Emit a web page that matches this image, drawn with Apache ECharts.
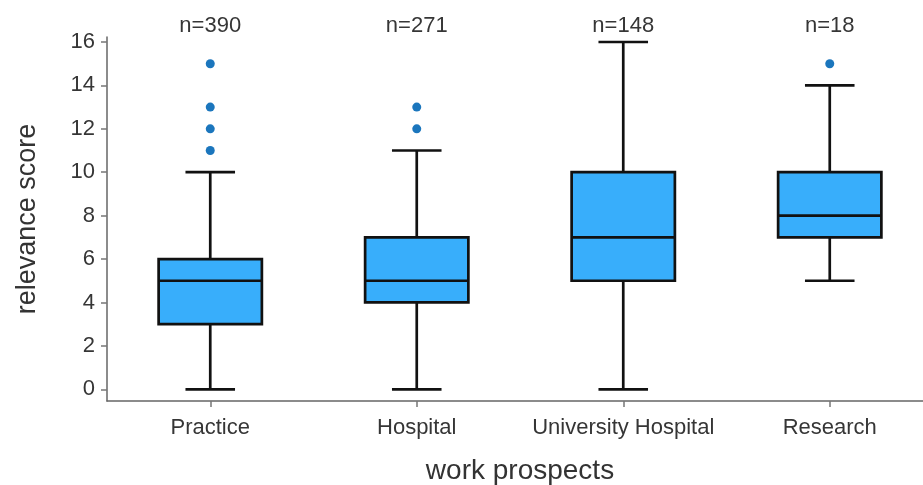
<!DOCTYPE html>
<html>
<head>
<meta charset="utf-8">
<script src="https://cdn.jsdelivr.net/npm/echarts@6/dist/echarts.min.js"></script>
<style>
  html, body { margin: 0; padding: 0; background: #ffffff; }
  #chart { width: 923px; height: 485px; }
</style>
</head>
<body>
<div id="chart"></div>
<script>
// Work prospects and their relevance score distributions
var categories = ['Practice', 'Hospital', 'University Hospital', 'Research'];
var sampleSizes = [390, 271, 148, 18];

// Five-number summaries per category: [min whisker, Q1, median, Q3, max whisker]
var whiskerLow = [0, 0, 0, 5];
var quartile1 = [3, 4, 5, 7];
var medians = [5, 5, 7, 8];
var quartile3 = [6, 7, 10, 10];
var whiskerHigh = [10, 11, 16, 14];

// Outlying observations: [category index, score]
var outliers = [
  [0, 11], [0, 12], [0, 13], [0, 15],
  [1, 12], [1, 13],
  [3, 15]
];

var yTicks = [0, 2, 4, 6, 8, 10, 12, 14, 16];

var nLabels = sampleSizes.map(function (n) { return 'n=' + n; });
var boxData = categories.map(function (c, i) {
  return [i, whiskerLow[i], quartile1[i], medians[i], quartile3[i], whiskerHigh[i]];
});

var FONT = '"Liberation Sans", Arial, sans-serif';
var BOX_FILL = '#38aefb';
var POINT_COLOR = '#1b76bd';
var LINE = '#111111';

function renderBox(params, api) {
  var idx = api.value(0);
  var band = api.size([1, 0])[0];
  var boxW = band * 0.5;
  var capW = band * 0.24;
  var pLow = api.coord([idx, api.value(1)]);
  var pQ1 = api.coord([idx, api.value(2)]);
  var pMed = api.coord([idx, api.value(3)]);
  var pQ3 = api.coord([idx, api.value(4)]);
  var pHigh = api.coord([idx, api.value(5)]);
  var cx = pLow[0];
  var lineStyle = { stroke: LINE, lineWidth: 2.7, fill: null };
  return {
    type: 'group',
    children: [
      { type: 'line', shape: { x1: cx, y1: pLow[1], x2: cx, y2: pQ1[1] }, style: lineStyle },
      { type: 'line', shape: { x1: cx, y1: pQ3[1], x2: cx, y2: pHigh[1] }, style: lineStyle },
      { type: 'line', shape: { x1: cx - capW / 2, y1: pLow[1], x2: cx + capW / 2, y2: pLow[1] }, style: lineStyle },
      { type: 'line', shape: { x1: cx - capW / 2, y1: pHigh[1], x2: cx + capW / 2, y2: pHigh[1] }, style: lineStyle },
      {
        type: 'rect',
        shape: { x: cx - boxW / 2, y: pQ3[1], width: boxW, height: pQ1[1] - pQ3[1] },
        style: { fill: BOX_FILL, stroke: LINE, lineWidth: 2.7 }
      },
      { type: 'line', shape: { x1: cx - boxW / 2, y1: pMed[1], x2: cx + boxW / 2, y2: pMed[1] }, style: lineStyle }
    ]
  };
}

var chart = echarts.init(document.getElementById('chart'));
chart.setOption({
  animation: false,
  backgroundColor: '#ffffff',
  // the plot area runs past the right edge of the canvas
  grid: { left: 107, width: 826, top: 37, bottom: 84, outerBoundsMode: 'none', containLabel: false },
  xAxis: [
    {
      type: 'category',
      data: categories,
      boundaryGap: true,
      position: 'bottom',
      name: 'work prospects',
      nameLocation: 'middle',
      nameGap: 56,
      nameTextStyle: { fontFamily: FONT, fontSize: 28, color: '#333333' },
      axisLine: { show: true, onZero: false, lineStyle: { color: '#666666', width: 1.5 } },
      axisTick: { show: true, alignWithLabel: true, interval: 0, length: 6, lineStyle: { color: '#777777', width: 1.5 } },
      axisLabel: { fontFamily: FONT, fontSize: 22, color: '#363636', margin: 16, interval: 0 },
      splitLine: { show: false }
    },
    {
      type: 'category',
      data: nLabels,
      boundaryGap: true,
      position: 'top',
      axisLine: { show: false },
      axisTick: { show: false },
      axisLabel: { fontFamily: FONT, fontSize: 22, color: '#363636', margin: 0, interval: 0 },
      splitLine: { show: false }
    }
  ],
  yAxis: {
    type: 'value',
    min: -0.54,
    max: 16.23,
    name: 'relevance score',
    nameLocation: 'middle',
    nameGap: 66,
    nameTextStyle: { fontFamily: FONT, fontSize: 27, color: '#333333' },
    axisLine: { show: true, lineStyle: { color: '#666666', width: 1.5 } },
    axisTick: { show: true, length: 6, customValues: yTicks, lineStyle: { color: '#777777', width: 1.5 } },
    axisLabel: { fontFamily: FONT, fontSize: 22, color: '#363636', margin: 12, customValues: yTicks },
    splitLine: { show: false }
  },
  series: [
    {
      type: 'custom',
      xAxisIndex: 0,
      renderItem: renderBox,
      encode: { x: 0, y: [1, 2, 3, 4, 5] },
      data: boxData,
      z: 2
    },
    {
      type: 'scatter',
      xAxisIndex: 0,
      data: outliers,
      symbol: 'circle',
      symbolSize: 9,
      itemStyle: { color: POINT_COLOR, opacity: 1 },
      z: 3
    }
  ]
});
</script>
</body>
</html>
